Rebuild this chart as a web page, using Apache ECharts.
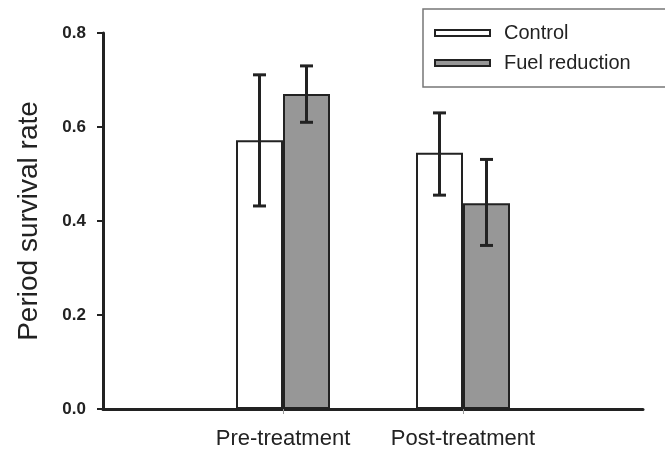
<!DOCTYPE html>
<html>
<head>
<meta charset="utf-8">
<script src="https://cdn.jsdelivr.net/npm/echarts@6/dist/echarts.min.js"></script>
<style>
  html, body { margin: 0; padding: 0; background: #fff; }
  #chart { width: 665px; height: 454px; }
</style>
</head>
<body>
<div id="chart"></div>
<script>
// periods sit at x = 1 and x = 2 on a 0..3 value axis
const periods = ['Pre-treatment', 'Post-treatment'];
const periodPos = [1, 2];
const controlMean = [0.572, 0.545];
const controlLow = [0.432, 0.455];
const controlHigh = [0.711, 0.630];
const fuelMean = [0.670, 0.438];
const fuelLow = [0.610, 0.348];
const fuelHigh = [0.730, 0.531];
const yTicks = [0, 0.2, 0.4, 0.6, 0.8];

const BAR_W = 47;
const INK = '#222';
const FONT = '"Liberation Sans", Arial, sans-serif';

const errorSeries = (low, high, shift) => ({
  type: 'custom',
  silent: true,
  z: 5,
  data: periodPos.map((p, i) => [p, low[i], high[i]]),
  renderItem: function (params, api) {
    const lo = api.coord([api.value(0), api.value(1)]);
    const hi = api.coord([api.value(0), api.value(2)]);
    const x = lo[0] + shift;
    const cap = 6.5;
    const style = { stroke: INK, lineWidth: 3 };
    return {
      type: 'group',
      children: [
        { type: 'line', shape: { x1: x, y1: lo[1], x2: x, y2: hi[1] }, style: style },
        { type: 'line', shape: { x1: x - cap, y1: lo[1], x2: x + cap, y2: lo[1] }, style: style },
        { type: 'line', shape: { x1: x - cap, y1: hi[1], x2: x + cap, y2: hi[1] }, style: style },
      ],
    };
  },
});

const option = {
  animation: false,
  textStyle: { fontFamily: FONT, color: INK },
  grid: { left: 103, right: 22, top: 33, bottom: 45, containLabel: false },
  legend: {
    data: ['Control', 'Fuel reduction'],
    orient: 'vertical',
    left: 423,
    top: 9,
    padding: [14, 60, 14, 11],
    icon: 'rect',
    itemWidth: 55,
    itemHeight: 6,
    itemGap: 10,
    borderColor: '#777',
    borderWidth: 1.5,
    selectedMode: false,
    textStyle: { fontSize: 20, color: INK, fontFamily: FONT, padding: [0, 0, 0, 9] },
  },
  xAxis: {
    type: 'value',
    min: 0,
    max: 3,
    interval: 1,
    splitLine: { show: false },
    axisLine: { lineStyle: { color: INK, width: 3 } },
    axisTick: { show: true, customValues: periodPos, length: 5, lineStyle: { color: '#999', width: 1 } },
    axisLabel: {
      customValues: periodPos,
      margin: 19,
      fontSize: 22,
      color: INK,
      formatter: v => periods[periodPos.indexOf(v)] || '',
    },
  },
  yAxis: {
    type: 'value',
    min: 0,
    max: 0.8,
    interval: 0.2,
    name: 'Period survival rate',
    nameLocation: 'middle',
    nameGap: 60,
    nameTextStyle: { fontSize: 28, color: INK, fontFamily: FONT },
    splitLine: { show: false },
    axisLine: { show: true, lineStyle: { color: INK, width: 3 } },
    axisTick: { show: true, length: 6, lineStyle: { color: INK, width: 2 } },
    axisLabel: {
      margin: 17,
      fontSize: 17,
      fontWeight: 'bold',
      color: INK,
      formatter: v => (yTicks.includes(v) ? v.toFixed(1) : ''),
    },
  },
  series: [
    {
      name: 'Control',
      type: 'bar',
      barWidth: BAR_W,
      barGap: '0%',
      itemStyle: { color: '#fff', borderColor: INK, borderWidth: 2 },
      data: periodPos.map((p, i) => [p, controlMean[i]]),
    },
    {
      name: 'Fuel reduction',
      type: 'bar',
      barWidth: BAR_W,
      barGap: '0%',
      itemStyle: { color: '#979797', borderColor: INK, borderWidth: 2 },
      data: periodPos.map((p, i) => [p, fuelMean[i]]),
    },
    errorSeries(controlLow, controlHigh, -BAR_W / 2),
    errorSeries(fuelLow, fuelHigh, BAR_W / 2),
  ],
};

const myChart = echarts.init(document.getElementById('chart'));
myChart.setOption(option);
window.addEventListener('resize', function () {
  myChart.resize();
});
</script>
</body>
</html>
